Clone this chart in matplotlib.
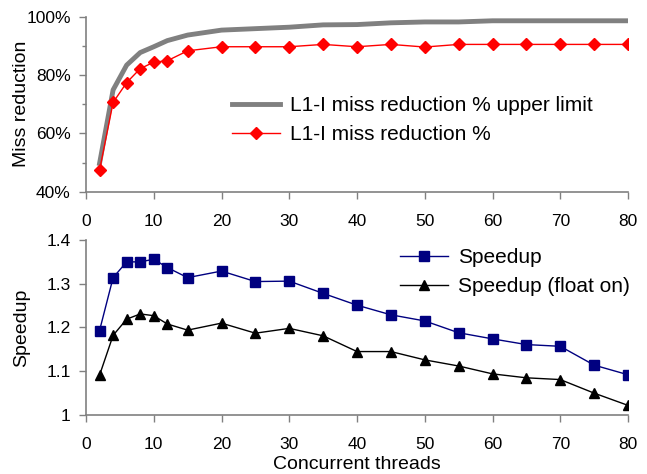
import matplotlib.pyplot as plt
from matplotlib.ticker import MultipleLocator, FuncFormatter

plt.rcParams['font.family'] = ['Liberation Sans', 'DejaVu Sans']

# data
threads = [2, 4, 6, 8, 10, 12, 15, 20, 25, 30, 35, 40, 45, 50, 55, 60, 65, 70, 75, 80]
miss_upper = [49.7, 74.9, 83.4, 87.7, 89.7, 91.8, 93.7, 95.4, 95.9, 96.4, 97.2, 97.3,
              97.9, 98.2, 98.2, 98.6, 98.6, 98.6, 98.6, 98.6]
miss_red = [47.4, 70.6, 77.4, 82.2, 84.4, 84.9, 88.3, 89.7, 89.7, 89.7, 90.5, 89.7,
            90.5, 89.6, 90.5, 90.5, 90.5, 90.5, 90.5, 90.5]
speedup = [1.193, 1.314, 1.350, 1.350, 1.356, 1.337, 1.314, 1.329, 1.305, 1.306, 1.278, 1.251,
           1.229, 1.215, 1.188, 1.174, 1.161, 1.157, 1.114, 1.092]
speedup_float = [1.091, 1.182, 1.219, 1.231, 1.227, 1.208, 1.194, 1.210, 1.187, 1.198, 1.181, 1.145,
                 1.145, 1.126, 1.112, 1.094, 1.085, 1.081, 1.050, 1.022]

W, H = 647, 474
fig = plt.figure(figsize=(W / 100, H / 100), dpi=100)
ax1 = fig.add_axes([86 / W, 1 - 191.7 / H, 542 / W, 175 / H])
ax2 = fig.add_axes([86 / W, 1 - 415 / H, 542 / W, 175 / H])

leg_kw = dict(frameon=False, fontsize=15, handlelength=2.3, labelspacing=0.5,
              handletextpad=0.5, borderpad=0, borderaxespad=0, loc='upper left')

ax1.plot(threads, miss_upper, color='#808080', lw=3.5, label='L1-I miss reduction % upper limit')
ax1.plot(threads, miss_red, color='red', lw=1, marker='D', ms=6,
         label='L1-I miss reduction %')
ax1.set_ylim(40, 100)
ax1.yaxis.set_major_locator(MultipleLocator(20))
ax1.yaxis.set_minor_locator(MultipleLocator(10))
ax1.yaxis.set_major_formatter(FuncFormatter(lambda v, p: f'{v:.0f}%'))
ax1.set_ylabel('Miss reduction', fontsize=14)
ax1.legend(bbox_to_anchor=(0.269, 0.547), **leg_kw)

ax2.plot(threads, speedup, color='#000080', lw=1, marker='s', ms=6.5, label='Speedup')
ax2.plot(threads, speedup_float, color='black', lw=1, marker='^', ms=7.5, label='Speedup (float on)')
ax2.set_ylim(1, 1.4)
ax2.yaxis.set_major_locator(MultipleLocator(0.1))
ax2.yaxis.set_major_formatter(FuncFormatter(lambda v, p: f'{v:g}'))
ax2.set_ylabel('Speedup', fontsize=14)
ax2.set_xlabel('Concurrent threads', fontsize=14, labelpad=3)
ax2.legend(bbox_to_anchor=(0.579, 0.955), **leg_kw)

for ax in (ax1, ax2):
    ax.set_xlim(0, 80)
    ax.xaxis.set_major_locator(MultipleLocator(10))
    for s in ('top', 'right'):
        ax.spines[s].set_visible(False)
    for s in ('left', 'bottom'):
        ax.spines[s].set_color('#808080')
        ax.spines[s].set_linewidth(1.2)
    ax.tick_params(which='both', color='#808080', length=5, width=1, labelsize=12.5)
    ax.tick_params(which='minor', length=3)
    ax.tick_params(axis='x', pad=11)
    ax.tick_params(axis='y', pad=6)
    ax.yaxis.set_label_coords(-0.103, 0.5)

fig.savefig('out.png', dpi=100)
